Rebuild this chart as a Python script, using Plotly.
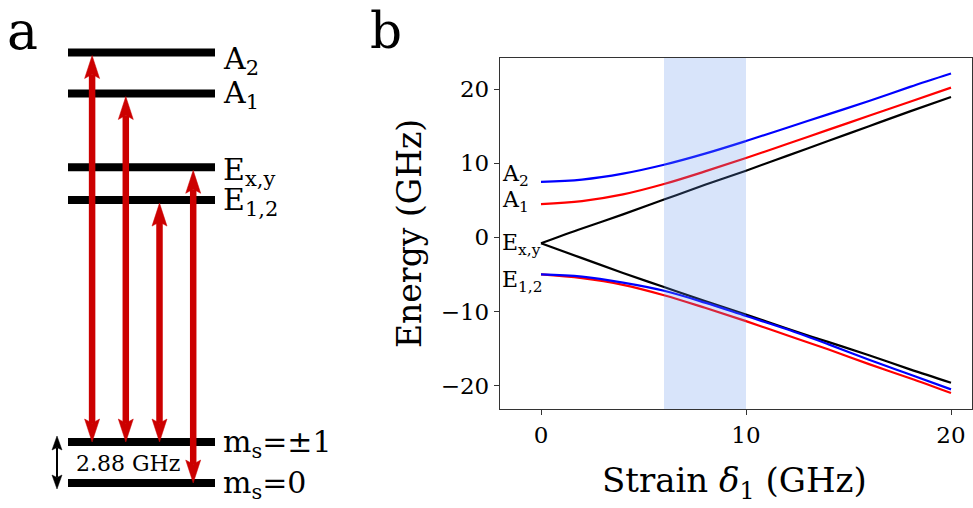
import plotly.graph_objects as go

# ---------------- data ----------------
# panel b: energy levels vs strain
strain = [0, 2, 4, 6, 8, 10, 12, 14, 16, 18, 20]
a2_blue = [7.5, 7.8, 8.6, 9.8, 11.3, 13.0, 14.8, 16.6, 18.4, 20.3, 22.1]
a1_red = [4.5, 4.9, 5.8, 7.2, 8.9, 10.7, 12.6, 14.5, 16.4, 18.3, 20.2]
exy_upper = [-0.8, 1.2, 3.1, 5.1, 7.1, 9.0, 11.0, 13.0, 15.0, 17.0, 18.95]
exy_lower = [-0.8, -2.8, -4.8, -6.7, -8.6, -10.4, -12.3, -14.1, -15.9, -17.8, -19.6]
e12_red = [-5.0, -5.5, -6.4, -7.8, -9.5, -11.3, -13.2, -15.1, -17.1, -19.0, -21.0]
e12_blue = [-5.0, -5.3, -6.1, -7.2, -8.8, -10.6, -12.4, -14.4, -16.5, -18.5, -20.5]
curve_labels = ["A<sub>2</sub>", "A<sub>1</sub>", "E<sub>x,y</sub>", "E<sub>1,2</sub>"]
curve_label_y = [8.4, 4.8, -0.9, -6.0]
shade_range = [6, 10]
x_ticks = [0, 10, 20]
y_ticks = [-20, -10, 0, 10, 20]

# panel a: level scheme (arbitrary vertical units)
level_names = ["A<sub>2</sub>", "A<sub>1</sub>", "E<sub>x,y</sub>", "E<sub>1,2</sub>",
               "m<sub>s</sub>=±1", "m<sub>s</sub>=0"]
level_y = [10.5, 9.5, 7.7, 6.9, 1.0, 0.0]
level_label_shift = [-8, -1, -4, -1, -1, -1]
transition_x = [1, 2, 3, 4]
transition_upper = [0, 1, 3, 2]
transition_lower = [4, 4, 4, 5]
gap_label = "2.88 GHz"

FONT = "DejaVu Serif"
W, H = 973, 508
RED_ARROW = "#cc0000"

fig = go.Figure()

# ---------------- panel b ----------------
def add_curve(y, color):
    fig.add_trace(go.Scatter(x=strain, y=y, mode="lines", line=dict(color=color, width=2.2, shape="spline"),
                             xaxis="x", yaxis="y", showlegend=False, hoverinfo="skip"))

add_curve(exy_upper, "black")
add_curve(exy_lower, "black")
add_curve(a1_red, "#ff0000")
add_curve(e12_red, "#ff0000")
add_curve(a2_blue, "#0000ff")
add_curve(e12_blue, "#0000ff")

fig.add_shape(type="rect", xref="x", yref="y domain", x0=shade_range[0], x1=shade_range[1], y0=0, y1=1,
              fillcolor="rgba(100,149,237,0.25)", line=dict(width=0), layer="above")

for lab, yy in zip(curve_labels, curve_label_y):
    fig.add_annotation(x=-2, y=yy, xref="x", yref="y", text=lab, showarrow=False, xanchor="left",
                       yanchor="middle", font=dict(family=FONT, size=22, color="black"))

# axis titles
fig.add_annotation(x=734 / W, y=(H - 482) / H, xref="paper", yref="paper", xanchor="center", yanchor="middle",
                   text="Strain <i>δ</i><sub>1</sub> (GHz)",
                   showarrow=False, font=dict(family=FONT, size=34, color="black"))
fig.add_annotation(x=410 / W, y=(H - 234) / H, xref="paper", yref="paper", xanchor="center", yanchor="middle",
                   text="Energy (GHz)", textangle=-90,
                   showarrow=False, font=dict(family=FONT, size=33, color="black"))

# panel letters
fig.add_annotation(x=22 / W, y=(H - 31) / H, xref="paper", yref="paper", xanchor="center", yanchor="middle",
                   text="a", showarrow=False, font=dict(family=FONT, size=52, color="black"))
fig.add_annotation(x=386 / W, y=(H - 31) / H, xref="paper", yref="paper", xanchor="center", yanchor="middle",
                   text="b", showarrow=False, font=dict(family=FONT, size=50, color="black"))

# ---------------- panel a ----------------
PX_X = 33.7   # px per x2 unit
PX_Y = 41.0   # px per y2 unit
X2_ORIGIN = 58.4
Y2_ORIGIN = 483.0
x2_domain = [0, 300 / W]
x2_range = [(0 - X2_ORIGIN) / PX_X, (300 - X2_ORIGIN) / PX_X]
y2_range = [(Y2_ORIGIN - H) / PX_Y, Y2_ORIGIN / PX_Y]

lx0 = (68 - X2_ORIGIN) / PX_X
lx1 = (215 - X2_ORIGIN) / PX_X
label_x = (221 - X2_ORIGIN) / PX_X

for name, yv, sh in zip(level_names, level_y, level_label_shift):
    fig.add_shape(type="line", xref="x2", yref="y2", x0=lx0, x1=lx1, y0=yv, y1=yv,
                  line=dict(color="black", width=8))
    fig.add_annotation(x=label_x, y=yv, xref="x2", yref="y2", text=name, showarrow=False, xanchor="left",
                       yanchor="middle", yshift=sh, font=dict(family=FONT, size=30, color="black"))


def head_path(u, v, direction, len_px, hw_px):
    L = len_px / PX_Y
    hw = hw_px / PX_X
    base = v - direction * L
    notch = v - direction * L * 0.82
    return (f"M {u},{v} L {u - hw},{base} L {u},{notch} L {u + hw},{base} Z"), notch


def double_arrow(u, v_top, v_bot, color, width, len_px, hw_px):
    p1, n1 = head_path(u, v_top, 1, len_px, hw_px)
    p2, n2 = head_path(u, v_bot, -1, len_px, hw_px)
    fig.add_shape(type="line", xref="x2", yref="y2", x0=u, x1=u, y0=n1, y1=n2,
                  line=dict(color=color, width=width))
    for p in (p1, p2):
        fig.add_shape(type="path", xref="x2", yref="y2", path=p, fillcolor=color,
                      line=dict(color=color, width=0.5))


top_gap = 3 / PX_Y
for tx, up, lo in zip(transition_x, transition_upper, transition_lower):
    double_arrow(tx, level_y[up] - top_gap, level_y[lo], RED_ARROW, 6.5, 23, 7.5)

# small black arrow for the ground-state splitting
gx = (57 - X2_ORIGIN) / PX_X
double_arrow(gx, level_y[4] + 6 / PX_Y, level_y[5] - 6 / PX_Y, "black", 2, 14, 5)
fig.add_annotation(x=(127.5 - X2_ORIGIN) / PX_X, y=(level_y[4] + level_y[5]) / 2, xref="x2", yref="y2",
                   text=gap_label, showarrow=False, yshift=-1, font=dict(family=FONT, size=22, color="black"))

# ---------------- layout ----------------
axis_font = dict(family=FONT, size=23, color="black")
fig.update_layout(
    width=W, height=H,
    margin=dict(l=0, r=0, t=0, b=0),
    paper_bgcolor="white", plot_bgcolor="white",
    showlegend=False,
    xaxis=dict(domain=[500 / W, 971.5 / W], range=[-2, 21], tickvals=x_ticks, ticks="outside", ticklen=5,
               tickwidth=1, tickcolor="#333", showline=True, linecolor="#333", linewidth=1.3, mirror=True,
               showgrid=False, zeroline=False, tickfont=axis_font, anchor="y"),
    yaxis=dict(domain=[(H - 409) / H, (H - 58) / H], range=[-23.15, 24.2], tickvals=y_ticks, ticks="outside",
               ticklen=5, tickwidth=1, tickcolor="#333", showline=True, linecolor="#333", linewidth=1.3,
               mirror=True, showgrid=False, zeroline=False, tickfont=axis_font, anchor="x"),
    xaxis2=dict(domain=x2_domain, range=x2_range, visible=False, anchor="y2"),
    yaxis2=dict(domain=[0, 1], range=y2_range, visible=False, anchor="x2"),
)

fig.write_html("out.html", config={"displayModeBar": False},
               post_script="document.body.style.margin='0px';document.body.style.overflow='hidden';")
